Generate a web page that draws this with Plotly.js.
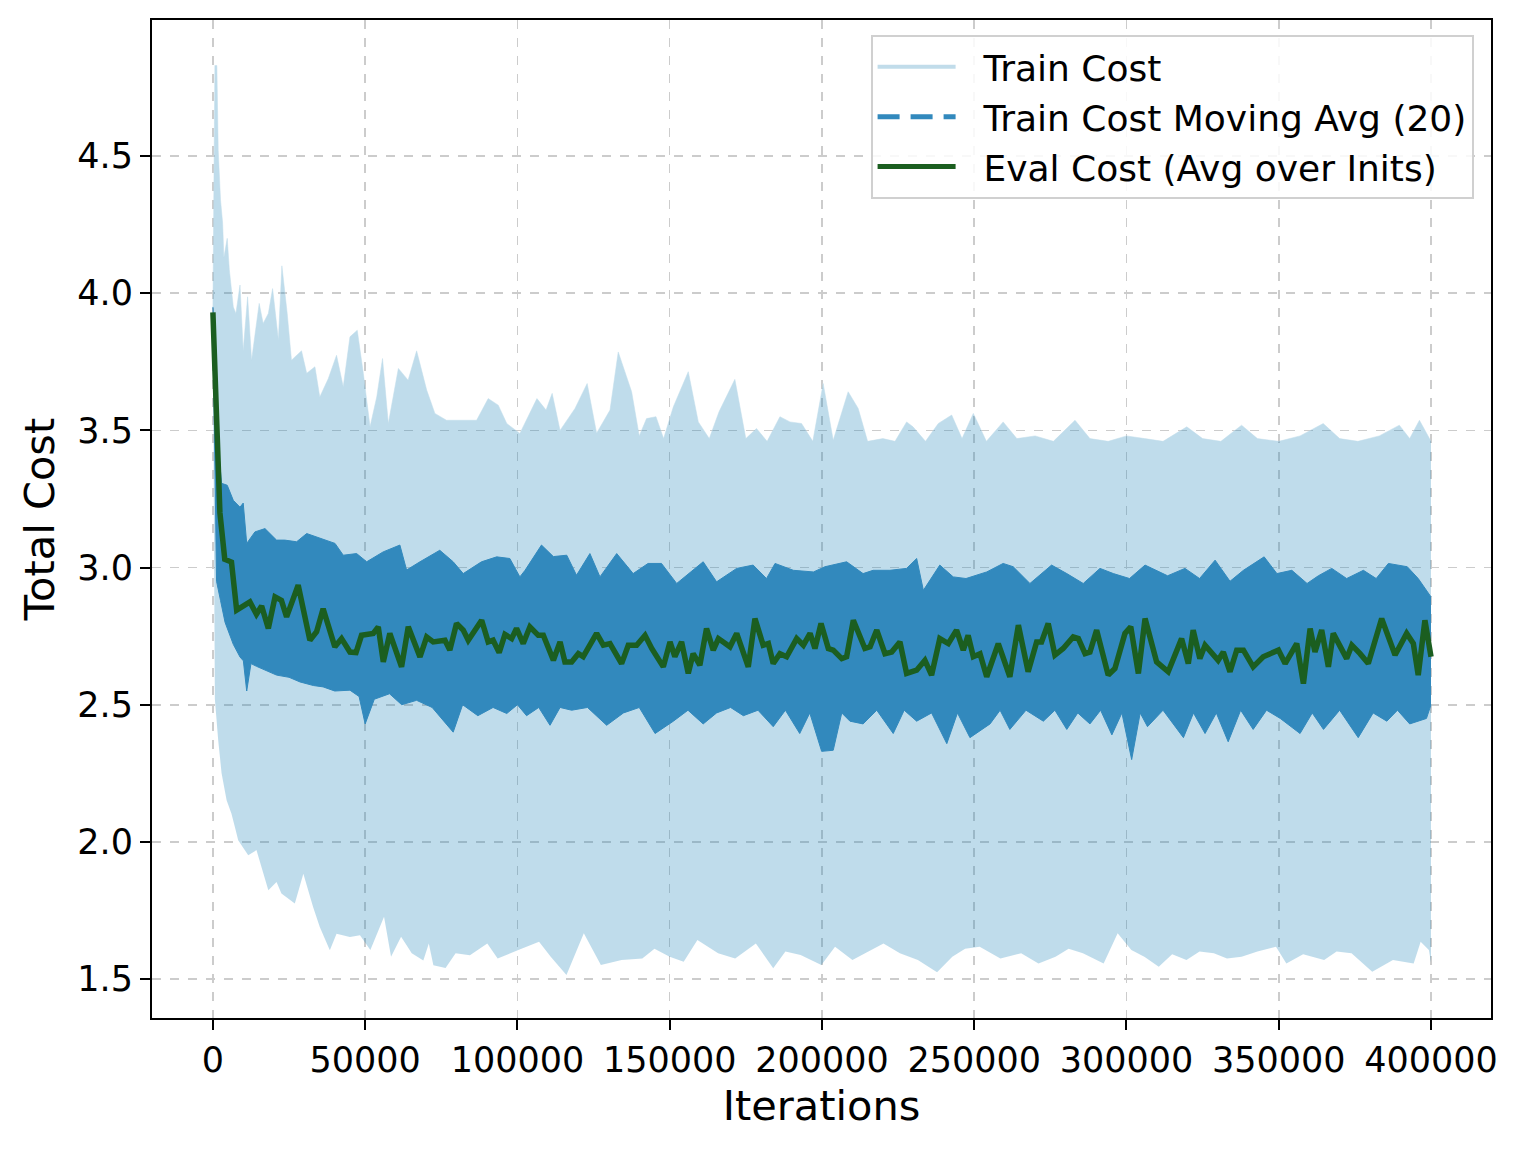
<!DOCTYPE html>
<html>
<head>
<meta charset="utf-8">
<script src="https://cdn.plot.ly/plotly-3.0.1.min.js"></script>
<style>
  html, body { margin: 0; padding: 0; background: #ffffff; }
  #chart { width: 1522px; height: 1150px; }
</style>
</head>
<body>
<div id="chart"></div>
<script>
// ---- Train cost (raw) : upper and lower envelope ----
const trainHiX = [0, 650, 1300, 1750, 2500, 3200, 3600, 4700, 5400, 6700, 7550, 8900, 9950, 11400, 12700, 15200, 16500, 18200, 19600, 21500, 22650, 24400, 25800, 29100, 30800, 33500, 35100, 37900, 40600, 42800, 45000, 47400, 49400, 51600, 53800, 55700, 57600, 60900, 64100, 66900, 70200, 72900, 76700, 81100, 86600, 90400, 93700, 96500, 100800, 106400, 109400, 111400, 114000, 118900, 122900, 126000, 130400, 133100, 137500, 140000, 142400, 145500, 148000, 151200, 156100, 159400, 163000, 166200, 171400, 175000, 178500, 182000, 186200, 189500, 193300, 197000, 200400, 203700, 208600, 211900, 215000, 220000, 224000, 227800, 229900, 234000, 238200, 242600, 246000, 249700, 254000, 259500, 264000, 270000, 276000, 283100, 288000, 294000, 300000, 306000, 312000, 319800, 325000, 331000, 337800, 343000, 350000, 357000, 364600, 370000, 376000, 383000, 389600, 393000, 396200, 400000];
const trainHi  = [3.95, 4.83, 4.83, 4.52, 4.34, 4.255, 4.13, 4.20, 4.085, 3.95, 3.926, 4.03, 3.79, 3.987, 3.756, 3.963, 3.89, 3.926, 4.017, 3.83, 4.10, 3.926, 3.756, 3.79, 3.708, 3.732, 3.622, 3.689, 3.774, 3.659, 3.841, 3.865, 3.708, 3.513, 3.622, 3.762, 3.525, 3.726, 3.683, 3.79, 3.647, 3.562, 3.537, 3.537, 3.537, 3.616, 3.592, 3.525, 3.489, 3.616, 3.574, 3.635, 3.50, 3.58, 3.671, 3.49, 3.574, 3.786, 3.641, 3.48, 3.543, 3.55, 3.47, 3.586, 3.714, 3.531, 3.47, 3.568, 3.686, 3.47, 3.507, 3.46, 3.55, 3.531, 3.525, 3.46, 3.671, 3.464, 3.641, 3.58, 3.46, 3.47, 3.46, 3.531, 3.513, 3.46, 3.525, 3.556, 3.47, 3.562, 3.46, 3.531, 3.47, 3.48, 3.46, 3.537, 3.47, 3.46, 3.48, 3.47, 3.46, 3.513, 3.47, 3.46, 3.519, 3.47, 3.46, 3.48, 3.525, 3.47, 3.46, 3.48, 3.519, 3.47, 3.537, 3.46];

const trainLoX = [0, 650, 1750, 2850, 4500, 6100, 7550, 8300, 11600, 14300, 18200, 20900, 22500, 26900, 29700, 32900, 35100, 38400, 40600, 45000, 48300, 51700, 56200, 58500, 61800, 65300, 69100, 70900, 72400, 76400, 79700, 84400, 90100, 93500, 100300, 107100, 111000, 116100, 121800, 127400, 134200, 141000, 145000, 150000, 154600, 159100, 165900, 171500, 178300, 184000, 188000, 193000, 199800, 204300, 210000, 215000, 220200, 225600, 231500, 237800, 242800, 247000, 251800, 258600, 265400, 271100, 276700, 281000, 285700, 292500, 297100, 301600, 306000, 310600, 315000, 319700, 324000, 328700, 333000, 337800, 343000, 349100, 352500, 358000, 364900, 369000, 373900, 380700, 387500, 394300, 396600, 399300, 400000];
const trainLo  = [3.85, 2.52, 2.37, 2.25, 2.152, 2.103, 2.04, 2.006, 1.951, 1.97, 1.824, 1.854, 1.812, 1.775, 1.884, 1.763, 1.69, 1.605, 1.665, 1.653, 1.66, 1.606, 1.727, 1.581, 1.654, 1.594, 1.568, 1.63, 1.55, 1.54, 1.594, 1.587, 1.63, 1.575, 1.606, 1.636, 1.58, 1.515, 1.667, 1.551, 1.569, 1.575, 1.61, 1.581, 1.563, 1.642, 1.594, 1.575, 1.63, 1.539, 1.60, 1.588, 1.551, 1.618, 1.569, 1.60, 1.63, 1.594, 1.569, 1.525, 1.581, 1.61, 1.618, 1.575, 1.594, 1.557, 1.581, 1.61, 1.594, 1.557, 1.667, 1.606, 1.58, 1.545, 1.59, 1.569, 1.60, 1.594, 1.575, 1.581, 1.60, 1.618, 1.557, 1.59, 1.569, 1.60, 1.594, 1.527, 1.569, 1.557, 1.636, 1.606, 1.56];

// ---- Train cost moving average (20): upper and lower envelope ----
const maHiX = [0, 1200, 1750, 2850, 4700, 6700, 8900, 9950, 11100, 13800, 17100, 20900, 23600, 27500, 30800, 35700, 40100, 42800, 47200, 50500, 55900, 61400, 63600, 68000, 74500, 78900, 82200, 88200, 93200, 97500, 100800, 102500, 107900, 111800, 116200, 119400, 123800, 127100, 132600, 138000, 142900, 147300, 152300, 161000, 165400, 172000, 177400, 181800, 184600, 190600, 197200, 201000, 208100, 213500, 216800, 222300, 227800, 231100, 233300, 238700, 243100, 247300, 254100, 259500, 262800, 268300, 275400, 280400, 285800, 291300, 295700, 301000, 306100, 313500, 319200, 324000, 329100, 334000, 338400, 345200, 349400, 354300, 359300, 363000, 367400, 372300, 377800, 382000, 386000, 392200, 395800, 400000];
const maHi  = [3.95, 3.68, 3.44, 3.307, 3.30, 3.245, 3.22, 3.235, 3.088, 3.13, 3.142, 3.10, 3.10, 3.094, 3.124, 3.106, 3.088, 3.045, 3.051, 3.021, 3.057, 3.082, 2.991, 3.021, 3.063, 3.021, 2.978, 3.021, 3.039, 3.033, 2.966, 2.99, 3.082, 3.04, 3.045, 2.972, 3.051, 2.966, 3.051, 2.978, 3.015, 3.015, 2.942, 3.021, 2.948, 2.997, 3.009, 2.96, 3.015, 2.99, 2.984, 3.003, 3.021, 2.978, 2.99, 2.99, 2.997, 3.033, 2.917, 3.009, 2.966, 2.96, 2.984, 3.015, 3.003, 2.942, 3.009, 2.978, 2.942, 2.997, 2.978, 2.96, 3.009, 2.97, 2.997, 2.96, 3.027, 2.95, 2.99, 3.039, 2.978, 2.99, 2.942, 2.97, 2.997, 2.96, 2.99, 2.96, 3.015, 3.003, 2.96, 2.893];

const maLoX = [0, 1200, 2500, 4000, 6700, 8900, 10000, 11100, 12500, 14300, 20900, 25000, 28600, 33000, 36200, 40000, 45000, 48000, 50000, 53000, 58000, 62000, 66900, 72000, 78900, 82000, 87000, 92000, 96500, 100000, 103000, 107000, 110700, 114000, 117800, 123000, 129300, 134800, 140000, 145200, 151200, 156000, 161000, 165400, 170000, 174200, 179000, 184000, 188000, 192700, 196000, 199900, 203700, 206500, 209200, 213500, 218000, 223400, 227000, 231100, 236000, 241000, 244500, 248600, 255200, 258500, 261700, 267000, 272700, 276500, 280400, 284000, 288000, 291500, 295200, 298500, 301700, 304500, 306900, 312000, 318700, 322000, 325800, 329500, 333400, 337500, 341600, 346000, 350500, 357000, 361000, 364700, 370000, 376100, 381000, 385500, 389000, 393000, 398500, 400000];
const maLo  = [3.90, 2.95, 2.88, 2.80, 2.72, 2.674, 2.66, 2.55, 2.65, 2.64, 2.608, 2.60, 2.583, 2.57, 2.565, 2.55, 2.553, 2.53, 2.43, 2.52, 2.54, 2.50, 2.516, 2.49, 2.40, 2.50, 2.46, 2.49, 2.468, 2.50, 2.46, 2.49, 2.425, 2.49, 2.48, 2.49, 2.425, 2.47, 2.49, 2.395, 2.44, 2.48, 2.43, 2.47, 2.49, 2.46, 2.48, 2.42, 2.48, 2.395, 2.47, 2.33, 2.334, 2.47, 2.44, 2.43, 2.48, 2.395, 2.48, 2.44, 2.47, 2.358, 2.47, 2.38, 2.43, 2.48, 2.41, 2.48, 2.44, 2.48, 2.41, 2.47, 2.43, 2.48, 2.39, 2.47, 2.30, 2.47, 2.42, 2.48, 2.38, 2.47, 2.395, 2.47, 2.365, 2.48, 2.41, 2.48, 2.45, 2.395, 2.47, 2.41, 2.48, 2.38, 2.47, 2.44, 2.48, 2.43, 2.45, 2.50];

// ---- Eval cost (average over inits) ----
const evalX = [0, 2300, 3900, 6100, 7800, 12150, 14300, 16000, 18200, 20400, 22500, 24200, 28000, 31850, 34050, 36200, 40050, 42250, 45000, 47000, 48800, 52650, 54300, 55950, 58100, 61950, 64150, 68000, 70200, 72350, 76200, 77800, 80000, 82200, 83850, 88250, 90400, 92000, 94000, 95900, 98100, 99700, 101900, 104100, 106850, 108500, 111800, 114000, 115600, 117800, 120000, 121600, 126000, 128200, 130400, 132000, 134200, 136400, 139150, 141900, 144100, 147900, 150100, 151700, 153900, 156100, 157700, 159900, 162100, 164300, 166000, 169800, 172000, 175800, 178000, 180700, 182400, 184000, 186200, 188400, 191700, 193900, 196100, 197700, 199700, 202100, 203700, 206500, 208100, 210300, 214100, 215800, 218000, 220700, 222900, 225600, 227800, 231100, 233800, 236000, 238700, 241500, 244200, 246400, 248000, 249700, 251900, 254100, 257900, 261700, 264500, 267700, 270500, 272100, 274300, 276500, 279200, 282500, 284200, 286400, 288000, 290200, 294000, 296200, 299500, 301400, 303900, 306100, 309900, 313700, 318100, 320300, 321900, 324100, 325800, 330100, 331800, 334000, 336200, 338400, 341600, 344900, 347700, 349900, 352100, 355900, 358100, 360300, 361900, 364100, 366300, 367900, 372300, 374000, 376700, 379400, 383800, 388200, 392000, 394200, 395800, 398000, 400000];
const evalY = [3.93, 3.20, 3.03, 3.02, 2.845, 2.875, 2.83, 2.86, 2.778, 2.893, 2.88, 2.82, 2.936, 2.735, 2.766, 2.85, 2.711, 2.741, 2.692, 2.69, 2.753, 2.76, 2.784, 2.656, 2.76, 2.638, 2.784, 2.674, 2.747, 2.729, 2.735, 2.699, 2.796, 2.772, 2.735, 2.808, 2.729, 2.735, 2.69, 2.756, 2.741, 2.778, 2.723, 2.784, 2.753, 2.753, 2.662, 2.729, 2.656, 2.656, 2.686, 2.675, 2.760, 2.717, 2.723, 2.692, 2.650, 2.717, 2.717, 2.753, 2.705, 2.638, 2.729, 2.675, 2.729, 2.614, 2.686, 2.644, 2.778, 2.699, 2.741, 2.711, 2.760, 2.638, 2.814, 2.717, 2.723, 2.650, 2.686, 2.675, 2.741, 2.717, 2.760, 2.705, 2.796, 2.705, 2.699, 2.668, 2.675, 2.808, 2.705, 2.711, 2.772, 2.686, 2.692, 2.729, 2.614, 2.626, 2.662, 2.608, 2.741, 2.723, 2.772, 2.699, 2.753, 2.675, 2.686, 2.602, 2.723, 2.602, 2.790, 2.620, 2.729, 2.729, 2.796, 2.681, 2.705, 2.747, 2.741, 2.686, 2.692, 2.772, 2.608, 2.632, 2.760, 2.784, 2.614, 2.814, 2.656, 2.620, 2.741, 2.650, 2.772, 2.668, 2.717, 2.662, 2.692, 2.620, 2.699, 2.699, 2.638, 2.675, 2.686, 2.699, 2.650, 2.723, 2.577, 2.778, 2.692, 2.772, 2.638, 2.760, 2.668, 2.717, 2.686, 2.650, 2.814, 2.681, 2.760, 2.723, 2.608, 2.808, 2.675];

// ---- Axis ticks ----
const xTickVals = [0, 50000, 100000, 150000, 200000, 250000, 300000, 350000, 400000];
const xTickText = ['0', '50000', '100000', '150000', '200000', '250000', '300000', '350000', '400000'];
const yTickVals = [1.5, 2.0, 2.5, 3.0, 3.5, 4.0, 4.5];
const yTickText = ['1.5', '2.0', '2.5', '3.0', '3.5', '4.0', '4.5'];

const legendNames = ['Train Cost', 'Train Cost Moving Avg (20)', 'Eval Cost (Avg over Inits)'];
const PAD = '\u00a0\u00a0';

const LIGHT_FILL = 'rgba(43,140,190,0.30)';
const LIGHT_LINE = 'rgb(193,220,234)';
const DARK = 'rgb(50,137,189)';
const GREEN = '#1b5e20';
const FONT = 'DejaVu Sans, sans-serif';

const traces = [
  { x: trainLoX, y: trainLo, type: 'scatter', mode: 'lines', line: { width: 0, color: LIGHT_LINE }, showlegend: false, hoverinfo: 'skip' },
  { x: trainHiX, y: trainHi, type: 'scatter', mode: 'lines', line: { width: 0.5, color: LIGHT_LINE }, fill: 'tonexty', fillcolor: LIGHT_FILL, showlegend: false, hoverinfo: 'skip' },
  { x: maLoX, y: maLo, type: 'scatter', mode: 'lines', line: { width: 1, color: DARK }, showlegend: false, hoverinfo: 'skip' },
  { x: maHiX, y: maHi, type: 'scatter', mode: 'lines', line: { width: 1, color: DARK }, fill: 'tonexty', fillcolor: DARK, showlegend: false, hoverinfo: 'skip' },
  { x: evalX, y: evalY, type: 'scatter', mode: 'lines', line: { width: 5.5, color: GREEN }, showlegend: false },
  // legend entries
  { x: [null], y: [null], type: 'scatter', mode: 'lines', name: PAD + legendNames[0], line: { width: 4, color: LIGHT_LINE }, legendgroup: 'a' },
  { x: [null], y: [null], type: 'scatter', mode: 'lines', name: PAD + legendNames[1], line: { width: 5, color: DARK, dash: '22px,11px' }, legendgroup: 'b' },
  { x: [null], y: [null], type: 'scatter', mode: 'lines', name: PAD + legendNames[2], line: { width: 5, color: GREEN }, legendgroup: 'c' }
];

const axisCommon = {
  showline: true, linecolor: '#000', linewidth: 2, mirror: true,
  ticks: 'outside', ticklen: 10, tickwidth: 2, tickcolor: '#000',
  showgrid: true, gridcolor: '#cccccc', gridwidth: 1.6, griddash: 'dash',
  zeroline: false, automargin: false,
  tickfont: { family: FONT, size: 35, color: '#000' }
};

const layout = {
  width: 1522, height: 1150,
  margin: { l: 152, r: 31, t: 20, b: 132, pad: 0 },
  paper_bgcolor: '#ffffff', plot_bgcolor: '#ffffff',
  font: { family: FONT, color: '#000' },
  showlegend: true,
  xaxis: Object.assign({}, axisCommon, {
    range: [-20000, 419700], tickmode: 'array', tickvals: xTickVals, ticktext: xTickText,
    title: { text: 'Iterations', font: { family: FONT, size: 41.5, color: '#000' }, standoff: 12 }
  }),
  yaxis: Object.assign({}, axisCommon, {
    range: [1.358, 4.996], tickmode: 'array', tickvals: yTickVals, ticktext: yTickText,
    title: { text: 'Total Cost', font: { family: FONT, size: 41.5, color: '#000' }, standoff: 10 }
  }),
  legend: {
    x: 0.987, xanchor: 'right', y: 0.985, yanchor: 'top',
    bgcolor: 'rgba(255,255,255,0.85)', bordercolor: '#d0d0d0', borderwidth: 2,
    font: { family: FONT, size: 36, color: '#000' },
    itemwidth: 78, tracegroupgap: 10, traceorder: 'normal'
  }
};

Plotly.newPlot('chart', traces, layout, { displayModeBar: false, staticPlot: true });
</script>
</body>
</html>
